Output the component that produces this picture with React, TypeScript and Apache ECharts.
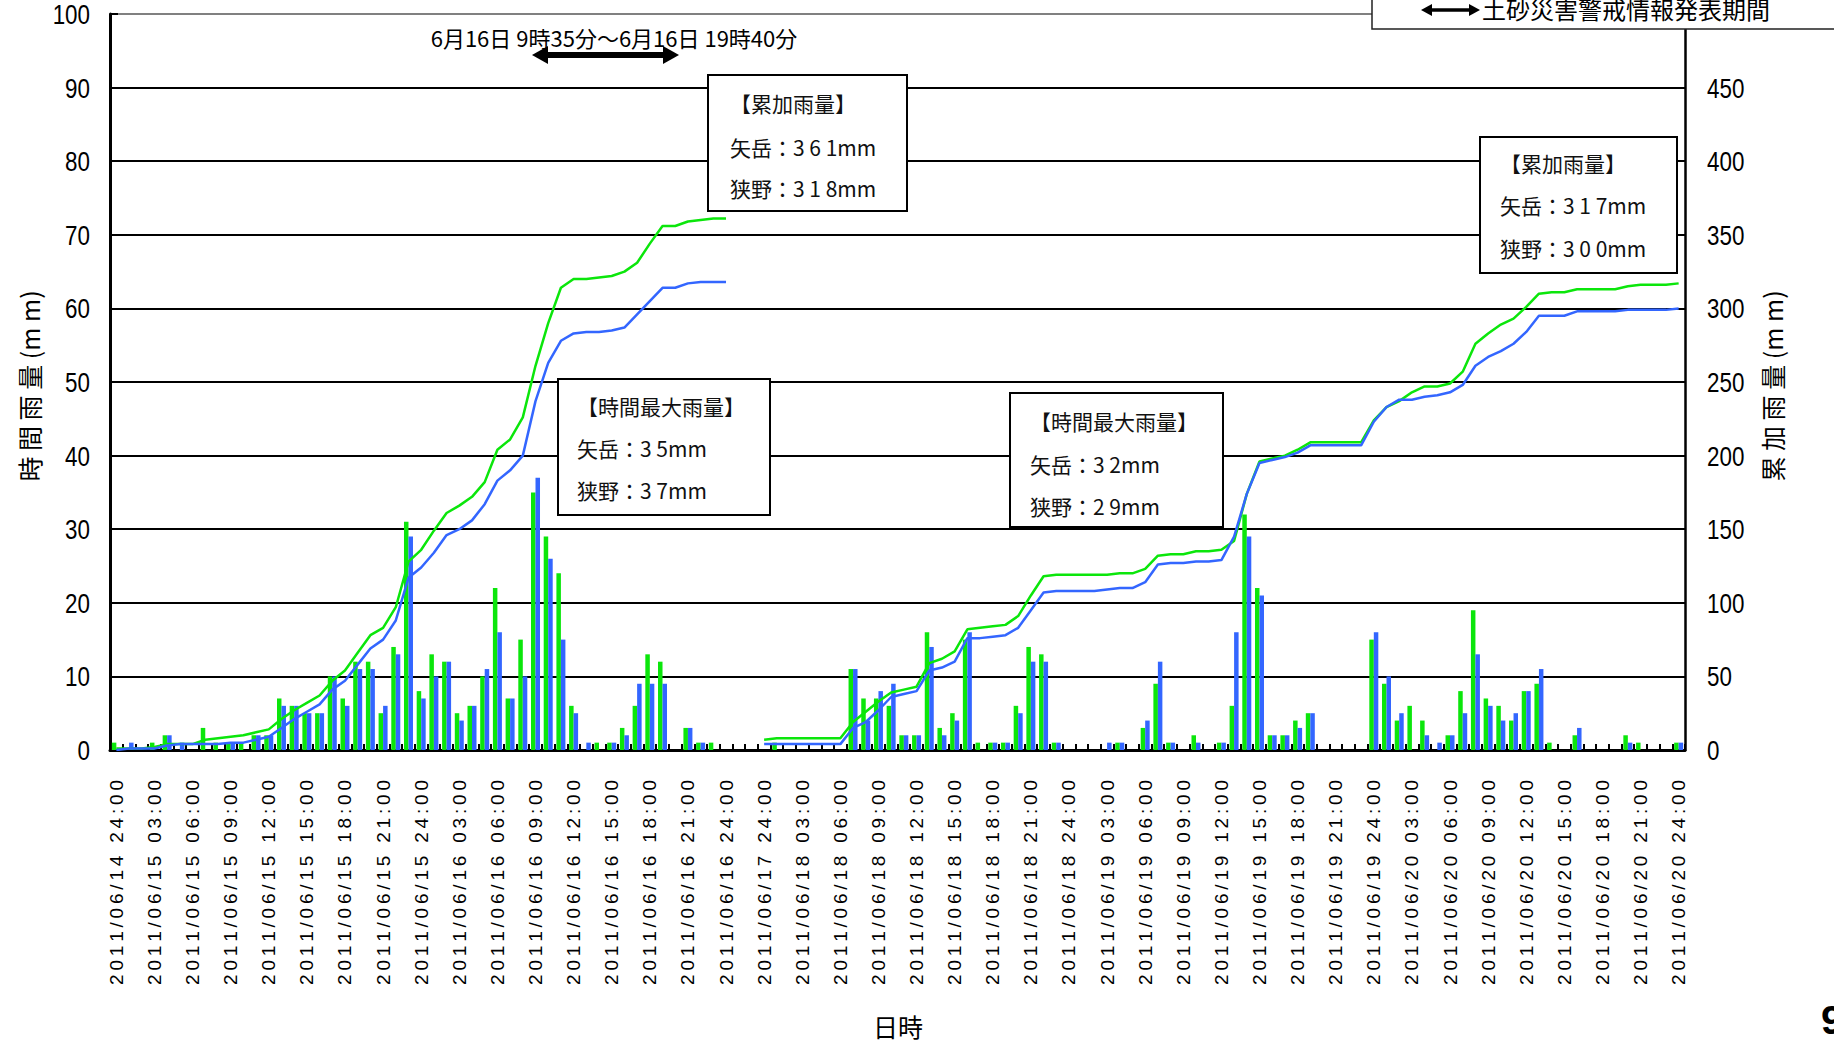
import { useEffect, useRef } from "react";
import * as echarts from "echarts";

// 時間雨量 (mm) — 1回目: 2011/06/14 24:00 〜 06/16 24:00 (1時間ごと)
const rain1Yatake = [
  1, 0, 0, 1, 2, 0, 0, 3, 1, 1, 1, 2, 2, 7, 6, 5, 5, 10, 7, 12, 12, 5, 14, 31, 8,
  13, 12, 5, 6, 10, 22, 7, 15, 35, 29, 24, 6, 0, 1, 1, 3, 6, 13, 12, 0, 3, 1, 1, 0,
];
const rain1Sano = [
  0, 1, 0, 0, 2, 1, 0, 0, 0, 1, 0, 2, 2, 6, 6, 5, 5, 10, 6, 11, 11, 6, 13, 29, 7,
  10, 12, 4, 6, 11, 16, 7, 10, 37, 26, 15, 5, 1, 0, 1, 2, 9, 9, 9, 0, 3, 1, 0, 0,
];

// 時間雨量 (mm) — 2回目: 2011/06/17 24:00 〜 06/20 24:00 (1時間ごと)
const rain2Yatake = [
  0, 1, 0, 0, 0, 0, 0, 11, 7, 7, 6, 2, 2, 16, 3, 5, 15, 1, 1, 1, 6, 14, 13, 1, 0,
  0, 0, 0, 1, 0, 3, 9, 1, 0, 2, 0, 1, 6, 32, 22, 2, 2, 4, 5, 0, 0, 0, 0, 15, 9,
  4, 6, 4, 0, 2, 8, 19, 7, 6, 4, 8, 9, 1, 0, 2, 0, 0, 0, 2, 1, 0, 0, 1,
];
const rain2Sano = [
  0, 0, 0, 0, 0, 0, 0, 11, 4, 8, 9, 2, 2, 14, 2, 4, 16, 0, 1, 1, 5, 12, 12, 1, 0,
  0, 0, 1, 1, 0, 4, 12, 1, 0, 1, 0, 1, 16, 29, 21, 2, 2, 3, 5, 0, 0, 0, 0, 16, 10,
  5, 0, 2, 1, 2, 5, 13, 6, 4, 5, 8, 11, 0, 0, 3, 0, 0, 0, 1, 0, 0, 0, 1,
];

// 2回目の開始時点での累加雨量 (mm)
const rain2StartYatake = 7;
const rain2StartSano = 4;

// 日時軸: 1回目の開始日, 2回目の開始日, 間の空き枠数
const period1FirstDay = 14;
const period2FirstDay = 17;
const gapSlots = 2;

// 縦軸の目盛
const hourlyTicks = [0, 10, 20, 30, 40, 50, 60, 70, 80, 90, 100];
const totalTicks = [0, 50, 100, 150, 200, 250, 300, 350, 400, 450, 500];

const stationNames = ["矢岳", "狭野"];
const GREEN = "#0be60b";
const BLUE = "#3366ff";

const CJK = "'Noto Sans CJK JP', 'Noto Sans', sans-serif";
const SANS = "'Liberation Sans', Arial, sans-serif";
const THIN = "\u2009";

function pad2(n: number) {
  return n < 10 ? "0" + n : String(n);
}

// "2011/06/14 24:00" 形式の時刻ラベル
function hourLabels(firstDay: number, count: number) {
  const out: string[] = [];
  for (let i = 0; i < count; i++) {
    const h = i % 24;
    if (h === 0) out.push(`2011/06/${pad2(firstDay + i / 24)} 24:00`);
    else out.push(`2011/06/${pad2(firstDay + Math.floor(i / 24) + 1)} ${pad2(h)}:00`);
  }
  return out;
}

function runningTotal(start: number, hourly: number[]) {
  let s = start;
  return hourly.map((v) => (s += v));
}

const gapLabels = Array.from({ length: gapSlots }, (_, i) => " ".repeat(i + 1));
const gapNulls = Array.from({ length: gapSlots }, () => null);

const categories = [
  ...hourLabels(period1FirstDay, rain1Yatake.length),
  ...gapLabels,
  ...hourLabels(period2FirstDay, rain2Yatake.length),
];

const hourlyYatake = [...rain1Yatake, ...gapNulls, ...rain2Yatake];
const hourlySano = [...rain1Sano, ...gapNulls, ...rain2Sano];
const totalYatake = [
  ...runningTotal(0, rain1Yatake),
  ...gapNulls,
  ...runningTotal(rain2StartYatake, rain2Yatake),
];
const totalSano = [
  ...runningTotal(0, rain1Sano),
  ...gapNulls,
  ...runningTotal(rain2StartSano, rain2Sano),
];

function infoBox(
  x: number,
  y: number,
  w: number,
  h: number,
  title: string,
  lines: string[],
  lineYs: number[],
  textX: number
) {
  return {
    type: "group",
    z: 100,
    children: [
      {
        type: "rect",
        shape: { x, y, width: w, height: h },
        style: { fill: "#fff", stroke: "#000", lineWidth: 2 },
        z: 100,
      },
      ...[title, ...lines].map((t, i) => ({
        type: "text",
        x: textX,
        y: lineYs[i],
        z: 101,
        style: {
          text: t,
          fill: "#111",
          font: `21px ${CJK}`,
          textAlign: "left",
          textVerticalAlign: "middle",
        },
      })),
    ],
  };
}

function doubleArrow(x1: number, x2: number, y: number, lw: number, headLen: number, headHalf: number) {
  return [
    {
      type: "line",
      z: 100,
      shape: { x1: x1 + headLen - 2, y1: y, x2: x2 - headLen + 2, y2: y },
      style: { stroke: "#000", lineWidth: lw },
    },
    {
      type: "polygon",
      z: 100,
      shape: { points: [[x1, y], [x1 + headLen, y - headHalf], [x1 + headLen, y + headHalf]] },
      style: { fill: "#000" },
    },
    {
      type: "polygon",
      z: 100,
      shape: { points: [[x2, y], [x2 - headLen, y - headHalf], [x2 - headLen, y + headHalf]] },
      style: { fill: "#000" },
    },
  ];
}

// 縦軸の目盛ラベル (細長い数字)
function narrowLabel(text: string, x: number, y: number, align: "left" | "right") {
  return {
    type: "text",
    x,
    y,
    scaleX: 0.8,
    z: 50,
    style: {
      text,
      font: `28px ${SANS}`,
      fill: "#000",
      textAlign: align,
      textVerticalAlign: "middle",
    },
  };
}

export default function App() {
  const ref = useRef<HTMLDivElement>(null);

  useEffect(() => {
    if (!ref.current) return;
    const chart = echarts.init(ref.current, null, { renderer: "svg" });

    const splitColors = hourlyTicks.map((_, i) => (i === hourlyTicks.length - 1 ? "#808080" : "#000"));

    chart.setOption({
      animation: false,
      backgroundColor: "#fff",
      grid: { left: 110, right: 149, top: 14, bottom: 295, containLabel: false },
      xAxis: {
        type: "category",
        data: categories,
        boundaryGap: true,
        axisLine: { lineStyle: { color: "#000", width: 3 } },
        axisTick: {
          show: true,
          inside: true,
          length: 6,
          interval: 0,
          lineStyle: { color: "#000", width: 2 },
        },
        axisLabel: {
          interval: 2,
          rotate: 90,
          margin: 30,
          color: "#000",
          fontFamily: SANS,
          fontSize: 19,
          formatter: (v: string) => v.split("").join(THIN),
        },
      },
      yAxis: [
        {
          type: "value",
          position: "left",
          min: hourlyTicks[0],
          max: hourlyTicks[hourlyTicks.length - 1],
          interval: hourlyTicks[1] - hourlyTicks[0],
          axisLine: { show: true, lineStyle: { color: "#000", width: 3 } },
          axisTick: { show: true, inside: true, length: 8, lineStyle: { color: "#000", width: 2 } },
          axisLabel: { show: false },
          splitLine: { show: true, lineStyle: { color: splitColors, width: 2 } },
        },
        {
          type: "value",
          position: "right",
          min: totalTicks[0],
          max: totalTicks[totalTicks.length - 1],
          interval: totalTicks[1] - totalTicks[0],
          axisLine: { show: true, lineStyle: { color: "#000", width: 2.5 } },
          axisTick: { show: true, inside: true, length: 8, lineStyle: { color: "#000", width: 2 } },
          axisLabel: { show: false },
          splitLine: { show: false },
        },
      ],
      series: [
        {
          name: stationNames[0] + " 時間雨量",
          type: "bar",
          yAxisIndex: 0,
          data: hourlyYatake,
          barWidth: 4.5,
          barGap: "0%",
          itemStyle: { color: GREEN },
          z: 2,
        },
        {
          name: stationNames[1] + " 時間雨量",
          type: "bar",
          yAxisIndex: 0,
          data: hourlySano,
          barWidth: 4.5,
          barGap: "0%",
          itemStyle: { color: BLUE },
          z: 2,
        },
        {
          name: stationNames[0] + " 累加雨量",
          type: "line",
          yAxisIndex: 1,
          data: totalYatake,
          showSymbol: false,
          connectNulls: false,
          lineStyle: { color: GREEN, width: 2.5 },
          itemStyle: { color: GREEN },
          z: 3,
        },
        {
          name: stationNames[1] + " 累加雨量",
          type: "line",
          yAxisIndex: 1,
          data: totalSano,
          showSymbol: false,
          connectNulls: false,
          lineStyle: { color: BLUE, width: 2.5 },
          itemStyle: { color: BLUE },
          z: 3,
        },
      ],
    });

    // 目盛ラベルは軸の座標変換から配置する
    const leftX = (chart.convertToPixel({ xAxisIndex: 0 }, 0) as number) - 6.35 - 20;
    const rightX = (chart.convertToPixel({ xAxisIndex: 0 }, categories.length - 1) as number) + 6.35 + 22;
    const tickLabels = [
      ...hourlyTicks.map((v) =>
        narrowLabel(String(v), leftX, chart.convertToPixel({ yAxisIndex: 0 }, v) as number, "right")
      ),
      ...totalTicks.map((v) =>
        narrowLabel(String(v), rightX, chart.convertToPixel({ yAxisIndex: 1 }, v) as number, "left")
      ),
    ];

    chart.setOption({
      graphic: [
        ...tickLabels,
        // 軸タイトル
        {
          type: "text",
          x: 29,
          y: 386,
          rotation: Math.PI / 2,
          style: {
            text: "時 間 雨 量 (m m)",
            font: `25px ${CJK}`,
            fill: "#000",
            textAlign: "center",
            textVerticalAlign: "middle",
          },
        },
        {
          type: "text",
          x: 1772,
          y: 386,
          rotation: Math.PI / 2,
          style: {
            text: "累 加 雨 量 (m m)",
            font: `25px ${CJK}`,
            fill: "#000",
            textAlign: "center",
            textVerticalAlign: "middle",
          },
        },
        {
          type: "text",
          x: 898,
          y: 1026,
          style: {
            text: "日時",
            font: `25px ${CJK}`,
            fill: "#000",
            textAlign: "center",
            textVerticalAlign: "middle",
          },
        },
        // 土砂災害警戒情報の発表期間
        {
          type: "text",
          x: 614,
          y: 37,
          z: 100,
          style: {
            text: "6月16日 9時35分～6月16日 19時40分",
            font: `22px ${CJK}`,
            fill: "#000",
            textAlign: "center",
            textVerticalAlign: "middle",
          },
        },
        ...doubleArrow(532, 679, 55, 6, 16, 9),
        // 凡例
        {
          type: "rect",
          z: 110,
          shape: { x: 1372, y: -5, width: 480, height: 34 },
          style: { fill: "#fff", stroke: "#222", lineWidth: 1.5 },
        },
        ...doubleArrow(1421, 1480, 10, 3.5, 11, 6).map((e) => ({ ...e, z: 111 })),
        {
          type: "text",
          x: 1482,
          y: 8,
          z: 111,
          style: {
            text: "土砂災害警戒情報発表期間",
            font: `24px ${CJK}`,
            fill: "#000",
            textAlign: "left",
            textVerticalAlign: "middle",
          },
        },
        // 雨量の注記
        infoBox(708, 75, 199, 136, "【累加雨量】", ["矢岳：3 6 1mm", "狭野：3 1 8mm"], [103, 147, 188], 730),
        infoBox(558, 379, 212, 136, "【時間最大雨量】", ["矢岳：3 5mm", "狭野：3 7mm"], [406, 448, 490], 577),
        infoBox(1010, 393, 213, 134, "【時間最大雨量】", ["矢岳：3 2mm", "狭野：2 9mm"], [421, 464, 506], 1030),
        infoBox(1480, 137, 197, 136, "【累加雨量】", ["矢岳：3 1 7mm", "狭野：3 0 0mm"], [163, 205, 248], 1500),
        // ページ番号
        {
          type: "text",
          x: 1821,
          y: 1020,
          style: {
            text: "9",
            font: `bold 40px ${SANS}`,
            fill: "#000",
            textAlign: "left",
            textVerticalAlign: "middle",
          },
        },
      ],
    });

    return () => chart.dispose();
  }, []);

  return (
    <div
      ref={ref}
      style={{ width: 1834, height: 1045, position: "absolute", left: 0, top: 0, background: "#fff" }}
    />
  );
}
